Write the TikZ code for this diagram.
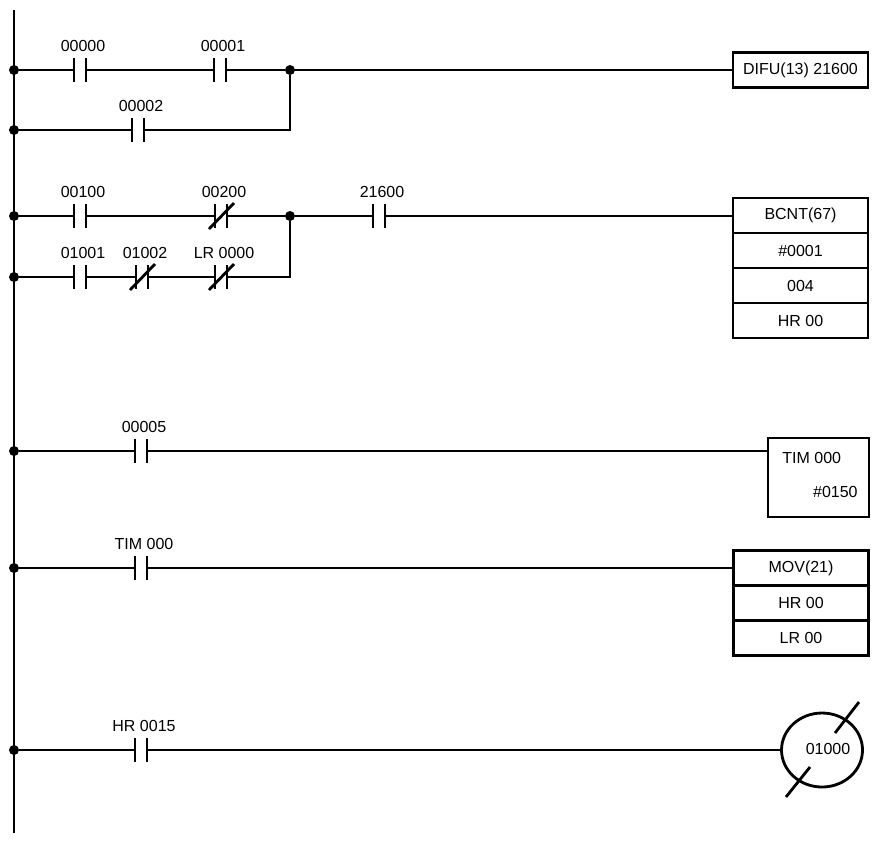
\documentclass[tikz,border=0pt]{standalone}
\usepackage{fontspec}
\setmainfont{Liberation Sans}
\usepackage{tikz}
\usetikzlibrary{positioning,shapes.geometric}
\tikzset{
    wire/.style={line width=1.4pt},
    dot/.style={circle, fill, inner sep=0pt, minimum size=5pt},
    contact/.style={inner sep=0pt, outer sep=0pt, minimum width=6pt, minimum height=12pt},
    lbl/.style={inner sep=0pt, font=\fontsize{8}{9}\selectfont},
    fbox/.style={draw, line width=1.4pt, inner sep=0pt, outer sep=0pt,
        minimum width=67.5pt, minimum height=17.5pt, font=\fontsize{8}{9}\selectfont},
}
\def\NO at (#1) named #2 label #3; {
    \node[contact] (#2) at (#1) {};
    \node[lbl] (#2l) at ([shift={(3,-24)}]#2.center) {#3};
    \draw[wire] (#2.north west) -- (#2.south west) (#2.north east) -- (#2.south east);
}
\def\NC at (#1) named #2 label #3; {
    \NO at (#1) named #2 label #3;
    \draw[wire] ([shift={(-12,13)}]#2.center) -- ([shift={(13,-13)}]#2.center);
}
\begin{document}
\begin{tikzpicture}[x=0.5pt, y=-0.5pt]
    \useasboundingbox (0,0) rectangle (882,843);
    % left rail
    \coordinate (railtop) at (14,10);
    \coordinate (railbot) at (14,833);
    \draw[wire] (railtop) -- (railbot);
    \foreach \y/\n in {70/r1, 130/r1b, 216/r2, 277/r2b, 451/r3, 568/r4, 750/r5}
        \node[dot] (\n) at (14,\y) {};

    % rung 1
    \NO at (80,70) named c00000 label {00000};
    \NO at (220,70) named c00001 label {00001};
    \NO at (138,130) named c00002 label {00002};
    \node[dot] (j1) at (290,70) {};
    \node[fbox] (difu) at (800.5,70) {DIFU(13) 21600};
    \draw[wire] (r1) -- (c00000.west) (c00000.east) -- (c00001.west) (c00001.east) -- (j1) -- (difu.west);
    \draw[wire] (r1b) -- (c00002.west) (c00002.east) -| (j1);

    % rung 2
    \NO at (80,216) named c00100 label {00100};
    \NC at (221,216) named c00200 label {00200};
    \NO at (80,277) named c01001 label {01001};
    \NC at (142,277) named c01002 label {01002};
    \NC at (221,277) named clr0000 label {LR 0000};
    \NO at (379,216) named c21600 label {21600};
    \node[dot] (j2) at (290,216) {};
    \node[fbox] (bcnt) at (800.5,215.5) {BCNT(67)};
    \node[fbox, below=0pt of bcnt] (bcnt1) {\#0001};
    \node[fbox, below=0pt of bcnt1] (bcnt2) {004};
    \node[fbox, below=0pt of bcnt2] (bcnt3) {HR 00};
    \draw[wire] (r2) -- (c00100.west) (c00100.east) -- (c00200.west) (c00200.east) -- (j2)
        -- (c21600.west) (c21600.east) -- (c21600.east -| bcnt.west);
    \draw[wire] (r2b) -- (c01001.west) (c01001.east) -- (c01002.west) (c01002.east) -- (clr0000.west)
        (clr0000.east) -| (j2);

    % rung 3
    \NO at (141,451) named c00005 label {00005};
    \node[fbox, minimum width=50.5pt, minimum height=39.5pt, anchor=north west] (tim) at (768,438) {};
    \node[lbl, anchor=west] (tima) at ([shift={(14,20)}]tim.north west) {TIM 000};
    \node[lbl, anchor=east] (timb) at ([shift={(-11,-25)}]tim.south east) {\#0150};
    \draw[wire] (r3) -- (c00005.west) (c00005.east) -- (c00005.east -| tim.west);

    % rung 4
    \NO at (141,568) named ctim000 label {TIM 000};
    \node[fbox] (mov) at (801,568) {MOV(21)};
    \node[fbox, below=0pt of mov] (mov1) {HR 00};
    \node[fbox, below=0pt of mov1] (mov2) {LR 00};
    \draw[wire] (r4) -- (ctim000.west) (ctim000.east) -- (mov.west);

    % rung 5
    \NO at (141,750) named chr0015 label {HR 0015};
    \node[ellipse, draw, line width=1.4pt, inner sep=0pt, outer sep=0pt,
        minimum width=40.5pt, minimum height=37pt] (coil) at (822,750) {};
    \node[lbl] (coilt) at ([shift={(6,-1)}]coil.center) {01000};
    \draw[wire] ([shift={(-36,47)}]coil.center) -- ([shift={(-12,17)}]coil.center);
    \draw[wire] ([shift={(13,-17)}]coil.center) -- ([shift={(37,-48)}]coil.center);
    \draw[wire] (r5) -- (chr0015.west) (chr0015.east) -- (coil.west);
\end{tikzpicture}
\end{document}
